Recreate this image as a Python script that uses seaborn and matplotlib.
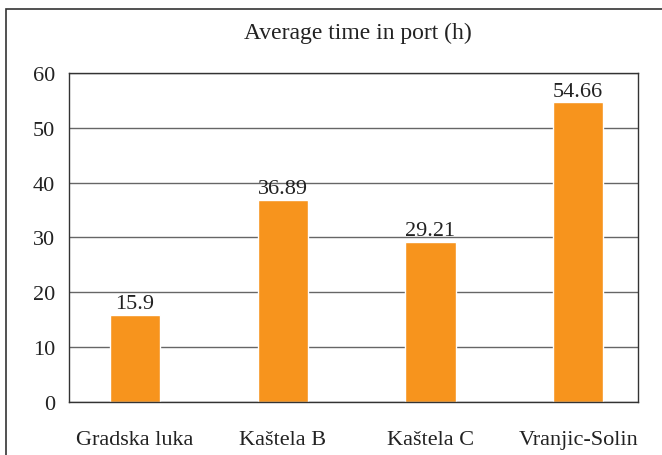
import seaborn as sns
import matplotlib.pyplot as plt
import pandas as pd
from matplotlib.patches import Rectangle

# Data
ports = ["Gradska luka", "Kaštela B", "Kaštela C", "Vranjic-Solin"]
hours = [15.9, 36.89, 29.21, 54.66]
value_labels = ["15.9", "36.89", "29.21", "54.66"]

df = pd.DataFrame({"port": ports, "hours": hours})

sns.set_style("white")
plt.rcParams['font.family'] = ['Liberation Serif', 'DejaVu Serif']

fig = plt.figure(figsize=(6.62, 4.56), dpi=100)
ax = fig.add_axes([0.104, 0.116, 0.86, 0.722])

sns.barplot(data=df, x="port", y="hours", color="#F7941D", width=0.34,
            saturation=1, ax=ax)

# value labels above bars
for i, v in enumerate(hours):
    ax.text(i, v + 0.3, value_labels[i], ha="center", va="bottom", fontsize=16, color="#222222")

ax.set_ylim(0, 60)
ax.set_yticks(range(0, 61, 10))
ax.set_xlim(-0.447, 3.406)
ax.yaxis.grid(True, color="#666666", linewidth=1)
ax.set_axisbelow(True)
for s in ax.spines.values():
    s.set_visible(True)
    s.set_color("#333333")
    s.set_linewidth(1)
ax.set_xlabel("")
ax.set_ylabel("")
ax.tick_params(axis="y", length=0, pad=10, labelsize=16, labelcolor="#222222")
ax.tick_params(axis="x", length=0, pad=20, labelsize=16, labelcolor="#222222")

fig.text(0.54, 0.927, "Average time in port (h)", ha="center", va="center", fontsize=17, color="#222222")

# outer chart border
fig.patches.append(Rectangle((6 / 662, -0.1), 1.0, 1 - 10 / 456 + 0.1, transform=fig.transFigure,
                             fill=False, edgecolor="#333333", linewidth=1.2))

fig.savefig("out.png", dpi=100)
